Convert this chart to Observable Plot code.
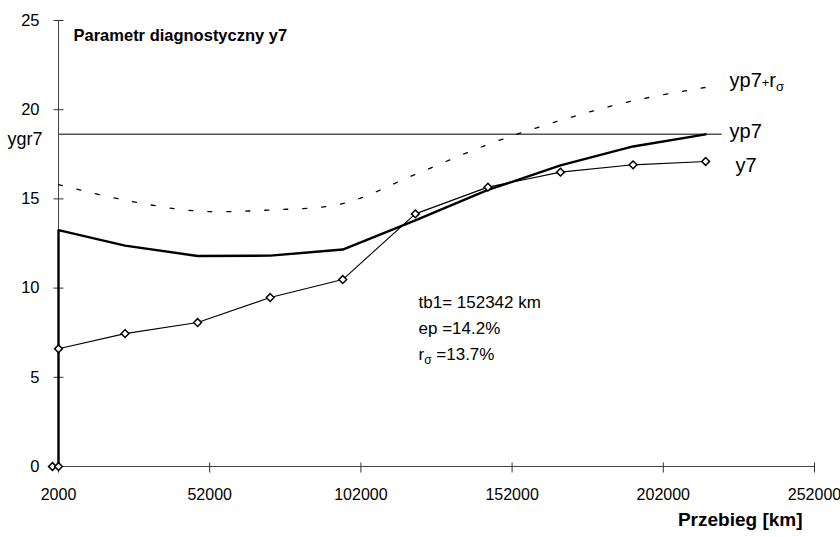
<!DOCTYPE html>
<html>
<head>
<meta charset="utf-8">
<script src="https://cdn.jsdelivr.net/npm/d3@7"></script>
<script src="https://cdn.jsdelivr.net/npm/@observablehq/plot@0.6"></script>
<style>
  html, body { margin: 0; padding: 0; background: #fff; }
  #chart svg { display: block; }
</style>
</head>
<body>
<div id="chart"></div>
<script>
// Mileage (km) at each inspection
const km = [2000, 24000, 48000, 72000, 96000, 120000, 144000, 168000, 192000, 216000];
// Measured diagnostic parameter y7
const y7 = [6.6, 7.45, 8.07, 9.47, 10.48, 14.16, 15.66, 16.5, 16.91, 17.1];
// Predicted value yp7
const yp7 = [13.25, 12.38, 11.8, 11.82, 12.16, 13.8, 15.5, 16.88, 17.94, 18.62];
// Upper band yp7 + r_sigma
const yp7r = [15.8, 14.93, 14.32, 14.38, 14.74, 16.37, 18.05, 19.4, 20.5, 21.25];
// Leading points at the origin of the record
const startKm = [0, 2000];
const startY7 = [0, 0];
const startYp7 = [0];
// Limit value ygr7 and the range it is drawn over
const ygr7 = 18.62;
const ygr7Km = [2000, 221500];
// Axis ticks
const xTicks = [2000, 52000, 102000, 152000, 202000, 252000];
const yTicks = [0, 5, 10, 15, 20, 25];
// Summary statistics
const stats = ["tb1= 152342 km", "ep =14.2%", "rσ =13.7%"];

const rows = km.map((k, i) => ({km: k, y7: y7[i], yp7: yp7[i], yp7r: yp7r[i]}));
const y7Line = startKm.map((k, i) => ({km: k, v: startY7[i]}))
  .concat(rows.map(r => ({km: r.km, v: r.y7})));
const yp7Line = [{km: km[0], v: startYp7[0]}]
  .concat(rows.map(r => ({km: r.km, v: r.yp7})));

// Cross-shaped axis ticks
const hTick = {draw(ctx) { ctx.moveTo(-5, 0); ctx.lineTo(5, 0); }};
const vTick = {draw(ctx) { ctx.moveTo(0, -4); ctx.lineTo(0, 6); }};

const font = "'Liberation Sans', Arial, Helvetica, sans-serif";

const chart = Plot.plot({
  width: 840,
  height: 537,
  marginLeft: 58,
  marginRight: 26,
  marginTop: 20,
  marginBottom: 71,
  style: {fontFamily: font, fontSize: "16px", color: "#000", background: "#fff"},
  x: {domain: [2000, 252000]},
  y: {domain: [0, 25]},
  marks: [
    Plot.axisX({ticks: xTicks, tickSize: 0, tickPadding: 22, tickFormat: d => String(d), label: null, fontSize: 16}),
    Plot.axisY({ticks: yTicks, tickSize: 0, tickPadding: 19, tickFormat: d => String(d), label: null, fontSize: 16.5}),
    Plot.ruleX([2000], {y1: 0, y2: 25, stroke: "#444", strokeWidth: 1}),
    Plot.ruleY([0], {x1: 2000, x2: 252000, stroke: "#444", strokeWidth: 1}),
    Plot.dot(yTicks, {x: () => 2000, y: d => d, symbol: hTick, stroke: "#333", strokeWidth: 1}),
    Plot.dot(xTicks, {x: d => d, y: () => 0, symbol: vTick, stroke: "#333", strokeWidth: 1}),
    // limit line
    Plot.ruleY([ygr7], {x1: ygr7Km[0], x2: ygr7Km[1], stroke: "#555", strokeWidth: 1.4}),
    // upper band, smoothed and dashed
    Plot.line(rows, {x: "km", y: "yp7r", curve: "catmull-rom", stroke: "#000", strokeWidth: 1.3, strokeDasharray: "4,15"}),
    // prediction
    Plot.line(yp7Line, {x: "km", y: "v", stroke: "#000", strokeWidth: 2.4}),
    // measurements
    Plot.line(y7Line, {x: "km", y: "v", stroke: "#000", strokeWidth: 1.1}),
    Plot.dot(y7Line, {x: "km", y: "v", symbol: "diamond2", r: 3.5, fill: "#fff", stroke: "#000", strokeWidth: 1.5}),
    // labels
    Plot.text(["Parametr diagnostyczny y7"], {frameAnchor: "top-left", dx: 15, dy: 15, lineAnchor: "middle", textAnchor: "start", fontWeight: "bold", fontSize: 16.5}),
    Plot.text(["Przebieg [km]"], {frameAnchor: "bottom-right", dx: -12, dy: 53, lineAnchor: "middle", textAnchor: "end", fontWeight: "bold", fontSize: 19}),
    Plot.text(["ygr7"], {x: () => 2000, y: () => ygr7, dx: -51, dy: 5, textAnchor: "start", fontSize: 18}),
    Plot.text(["yp7+rσ"], {x: () => 223900, y: () => 21.64, textAnchor: "start", fontSize: 20}),
    Plot.text(["yp7"], {x: () => 223900, y: () => 18.78, textAnchor: "start", fontSize: 20}),
    Plot.text(["y7"], {x: () => 225900, y: () => 16.87, textAnchor: "start", fontSize: 20}),
    Plot.text([stats.join("\n")], {frameAnchor: "top-left", dx: 360, dy: 305, lineAnchor: "middle", textAnchor: "start", lineHeight: 1.53, fontSize: 17})
  ]
});

// Typeset the sigma subscripts
d3.select(chart).selectAll("text, tspan").each(function () {
  if (this.childElementCount > 0) return;
  const t = this.textContent;
  if (t === "yp7+rσ") {
    this.innerHTML = 'yp7<tspan font-size="13">+</tspan>r<tspan font-size="13" dy="4">σ</tspan>';
  } else if (t.startsWith("rσ")) {
    this.innerHTML = 'r<tspan font-size="12" dy="4">σ</tspan><tspan dy="-4">' + t.slice(2) + '</tspan>';
  }
});

document.getElementById("chart").appendChild(chart);
</script>
</body>
</html>
